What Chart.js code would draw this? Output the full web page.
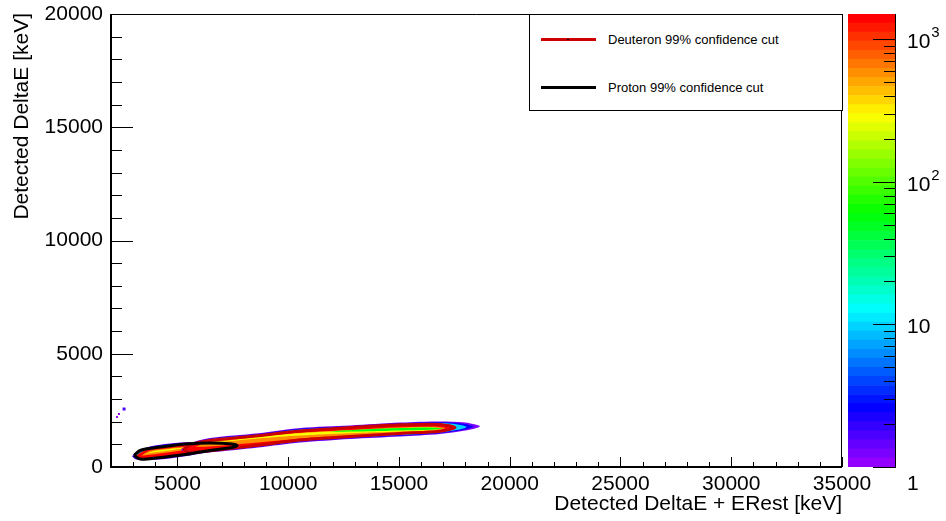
<!DOCTYPE html>
<html>
<head>
<meta charset="utf-8">
<title>DeltaE vs DeltaE + ERest</title>
<script src="https://cdn.jsdelivr.net/npm/chart.js@4.4.1/dist/chart.umd.min.js"></script>
<style>
  html, body { margin: 0; background: #fff; }
  #wrap { position: relative; width: 946px; height: 521px; overflow: hidden; }
  #histChart { position: absolute; left: 0; top: 0; }
  #paletteChart { position: absolute; left: 840px; top: 0; }
  #legend {
    position: absolute; left: 529px; top: 14px; width: 314px; height: 97px;
    box-sizing: border-box; border: 1px solid #000; background: #fff;
    font: 13px "Liberation Sans", Arial, sans-serif; color: #000;
  }
  #legend .swatch { position: absolute; left: 11px; width: 55px; height: 3px; }
  #legend .dot { position: absolute; left: 37px; width: 2px; height: 1px; background: #000; }
  #legend .label { position: absolute; left: 78px; line-height: 15px; white-space: nowrap; }
</style>
</head>
<body>
<div id="wrap">
  <canvas id="histChart" width="946" height="521"></canvas>
  <canvas id="paletteChart" width="106" height="521"></canvas>
  <div id="legend">
    <div class="swatch" style="top:22.5px;background:#cc0000"></div>
    <div class="dot" style="top:23.5px"></div>
    <div class="label" style="top:16.5px">Deuteron 99% confidence cut</div>
    <div class="swatch" style="top:70.5px;background:#000"></div>
    <div class="label" style="top:64.5px">Proton 99% confidence cut</div>
  </div>
</div>
<script>
const FONT = '"Liberation Sans", Arial, sans-serif';

// axes (keV)
const xRange = [2000, 35000];
const yRange = [0, 20000];
const xTicks = [5000, 10000, 15000, 20000, 25000, 30000, 35000];
const yTicks = [0, 5000, 10000, 15000, 20000];
const minorStep = 1000;
const yTitle = 'Detected DeltaE [keV]';

// colour axis: counts per bin, log scale
const zRange = [1, 1500];
const zTicks = [1, 10, 100, 1000];
const nColors = 50;

// contour bands: z = counts, x = DeltaE + ERest, hi / lo = DeltaE edges of the band
const protonPurple = { z: 1.2, x: [2950, 3130, 3760, 4660, 5570, 6470, 7280, 7550],
  hi: [460, 660, 910, 1040, 1100, 1100, 1040, 930], lo: [460, 330, 310, 380, 510, 660, 820, 930] };
const protonBlue = { z: 2.5, x: [3000, 3170, 3760, 4660, 5570, 6470, 7230, 7470],
  hi: [460, 640, 880, 1010, 1070, 1070, 1010, 930], lo: [460, 360, 340, 410, 540, 690, 850, 930] };
const protonCyan = { z: 10, x: [3050, 3210, 3760, 4660, 5570, 6470, 7180, 7400],
  hi: [460, 620, 850, 980, 1040, 1040, 990, 930], lo: [460, 390, 370, 440, 570, 720, 870, 930] };
const protonRed = { z: 1400, x: [3100, 3260, 3760, 4660, 5570, 6470, 7130, 7330],
  hi: [460, 600, 820, 950, 1010, 1010, 970, 920], lo: [460, 410, 400, 470, 600, 740, 880, 920] };
const protonOrange = { z: 600, x: [3350, 3760, 4660, 5570, 6470],
  hi: [500, 720, 830, 900, 880], lo: [500, 540, 650, 770, 880] };
const protonYellow = { z: 270, x: [3450, 3900, 4660, 5340],
  hi: [540, 700, 800, 850], lo: [540, 640, 730, 850] };

const deuteronPurple = { z: 1.2, x: [5150, 5500, 6400, 8650, 10550, 12800, 15050, 16850, 18000, 18650],
  hi: [750, 1020, 1270, 1490, 1720, 1830, 1960, 2010, 1960, 1790], lo: [750, 620, 640, 860, 1080, 1240, 1350, 1460, 1610, 1790] };
const deuteronBlue = { z: 2.5, x: [5200, 5530, 6400, 8650, 10550, 12800, 15050, 16850, 17850, 18350],
  hi: [760, 990, 1240, 1460, 1690, 1800, 1930, 1975, 1920, 1790], lo: [760, 650, 670, 890, 1110, 1270, 1380, 1490, 1630, 1790] };
const deuteronCyan = { z: 10, x: [5250, 5560, 6400, 8650, 10550, 12800, 15050, 16850, 17650, 18050],
  hi: [770, 960, 1210, 1430, 1660, 1770, 1900, 1940, 1880, 1770], lo: [770, 680, 700, 920, 1140, 1300, 1410, 1520, 1640, 1770] };
const deuteronRed = { z: 1400, x: [5300, 5600, 6400, 8650, 10550, 12800, 15050, 16850, 17400],
  hi: [780, 930, 1180, 1400, 1630, 1740, 1870, 1900, 1730], lo: [780, 710, 730, 950, 1170, 1330, 1440, 1540, 1730] };
const deuteronOrange = { z: 600, x: [5790, 6380, 8640, 10530, 12790, 15050, 16630, 17080],
  hi: [880, 1100, 1340, 1510, 1630, 1750, 1780, 1720], lo: [880, 900, 1080, 1260, 1390, 1490, 1570, 1720] };
const deuteronYellow = { z: 270, x: [6020, 8640, 10530, 12790, 15050, 16400, 16850],
  hi: [1020, 1330, 1490, 1610, 1725, 1755, 1700], lo: [1020, 1260, 1390, 1490, 1570, 1610, 1700] };
const deuteronGreen = { z: 60, x: [11900, 13100, 15050, 16400, 16950],
  hi: [1560, 1640, 1720, 1745, 1690], lo: [1560, 1570, 1615, 1645, 1690] };

// 99% confidence cuts
const deuteronCut = { x: [5250, 5570, 6380, 8640, 10530, 12790, 15050, 16850, 17530],
  hi: [760, 970, 1160, 1380, 1590, 1740, 1860, 1880, 1740], lo: [760, 660, 710, 960, 1190, 1350, 1480, 1580, 1740] };
const protonCut = { x: [3040, 3310, 4120, 5340, 6470, 7460, 7690],
  hi: [510, 730, 870, 1020, 1060, 1020, 950], lo: [510, 350, 410, 550, 730, 860, 950] };

// isolated low-count bins
const strayX = [2590, 2360, 2270];
const strayY = [2560, 2340, 2210];
const strayZ = [1.6, 1, 1];

function paletteColor(i) {
  const hue = 280 - (i + 1) * 280 / nColors;
  return `hsl(${hue}, 100%, 50%)`;
}

function colorForCount(z) {
  const f = Math.log(z / zRange[0]) / Math.log(zRange[1] / zRange[0]);
  return paletteColor(Math.min(nColors - 1, Math.max(0, Math.floor(f * nColors))));
}

// closed outline: along the upper edge, then back along the lower edge
function outline(band) {
  const top = band.x.map((x, i) => ({ x, y: band.hi[i] }));
  const bottom = band.x.map((x, i) => ({ x, y: band.lo[i] })).reverse();
  return top.concat(bottom.slice(1));
}

function bandSet(band) {
  const color = colorForCount(band.z);
  return { data: outline(band), fill: 'shape', backgroundColor: color, borderColor: 'transparent',
    borderWidth: 0, pointRadius: 0, tension: 0.3 };
}

function cutSet(band, color) {
  return { data: outline(band), fill: false, borderColor: color, borderWidth: 3,
    pointRadius: 0, tension: 0.3 };
}

const layers = [
  bandSet(protonPurple), bandSet(protonBlue), bandSet(protonCyan),
  bandSet(protonRed), bandSet(protonOrange), bandSet(protonYellow),
  bandSet(deuteronPurple), bandSet(deuteronBlue), bandSet(deuteronCyan),
  bandSet(deuteronRed), bandSet(deuteronOrange), bandSet(deuteronYellow), bandSet(deuteronGreen),
  cutSet(deuteronCut, '#cc0000'),
  cutSet(protonCut, '#000000'),
  {
    data: strayX.map((x, i) => ({ x, y: strayY[i] })),
    showLine: false, pointStyle: 'rect',
    pointRadius: strayZ.map(z => (z > 1 ? 2.1 : 1.4)),
    pointBackgroundColor: strayZ.map(colorForCount), pointBorderWidth: 0
  }
];
// first layer goes to the back
layers.forEach((ds, i) => { ds.order = layers.length - i; });

const axisFrame = {
  id: 'axisFrame',
  afterDatasetsDraw(chart) {
    const { ctx, chartArea: a, scales: { x, y } } = chart;
    ctx.save();
    ctx.strokeStyle = '#000';
    ctx.lineWidth = 1;
    ctx.beginPath();
    ctx.moveTo(a.left, a.top + 0.5);
    ctx.lineTo(a.right - 0.5, a.top + 0.5);
    ctx.lineTo(a.right - 0.5, a.bottom);
    for (let v = Math.ceil(xRange[0] / minorStep) * minorStep; v <= xRange[1]; v += minorStep) {
      const px = Math.round(x.getPixelForValue(v)) + 0.5;
      const len = xTicks.includes(v) ? 10 : 5;
      ctx.moveTo(px, a.bottom);
      ctx.lineTo(px, a.bottom - len);
    }
    for (let v = yRange[0]; v <= yRange[1]; v += minorStep) {
      const py = Math.round(y.getPixelForValue(v)) + 0.5;
      const len = yTicks.includes(v) ? 22 : 11;
      ctx.moveTo(a.left, py);
      ctx.lineTo(a.left + len, py);
    }
    ctx.stroke();
    ctx.lineWidth = 2;
    ctx.beginPath();
    ctx.moveTo(a.left, a.top);
    ctx.lineTo(a.left, a.bottom);
    ctx.lineTo(a.right, a.bottom);
    ctx.stroke();

    // y title, right-aligned to the top of the axis
    ctx.translate(22, a.top - 1);
    ctx.rotate(-Math.PI / 2);
    ctx.fillStyle = '#000';
    ctx.font = `21px ${FONT}`;
    ctx.textAlign = 'right';
    ctx.textBaseline = 'middle';
    ctx.fillText(yTitle, 0, 0);
    ctx.restore();
  }
};

// keep the plot frame where the layout padding puts it
function noLabelPadding(s) {
  s.paddingTop = 0;
  s.paddingBottom = 0;
  s.paddingLeft = 0;
  s.paddingRight = 0;
}

new Chart(document.getElementById('histChart'), {
  type: 'line',
  data: { datasets: layers },
  options: {
    responsive: false,
    animation: false,
    events: [],
    layout: { autoPadding: false, padding: { left: 0, top: 14, right: 104, bottom: 0 } },
    plugins: { legend: { display: false }, tooltip: { enabled: false } },
    scales: {
      x: {
        type: 'linear', min: xRange[0], max: xRange[1],
        afterBuildTicks: (s) => { s.ticks = xTicks.map((value) => ({ value })); },
        afterFit: (s) => { s.height = 54; noLabelPadding(s); },
        grid: { display: false, drawTicks: false },
        border: { display: false },
        ticks: { color: '#000', font: { family: FONT, size: 21 }, padding: 5,
          maxRotation: 0, autoSkip: false, callback: (v) => String(v) },
        title: { display: true, text: 'Detected DeltaE + ERest [keV]', align: 'end',
          color: '#000', font: { family: FONT, size: 21 }, padding: 4 }
      },
      y: {
        type: 'linear', min: yRange[0], max: yRange[1],
        afterBuildTicks: (s) => { s.ticks = yTicks.map((value) => ({ value })); },
        afterFit: (s) => { s.width = 111; noLabelPadding(s); },
        grid: { display: false, drawTicks: false },
        border: { display: false },
        ticks: { color: '#000', font: { family: FONT, size: 21 }, padding: 8,
          autoSkip: false, callback: (v) => String(v) }
      }
    }
  },
  plugins: [axisFrame]
});

// colour scale: one floating bar per palette level
const zEdges = Array.from({ length: nColors + 1 },
  (_, i) => zRange[0] * Math.pow(zRange[1] / zRange[0], i / nColors));
const paletteSets = zEdges.slice(0, -1).map((lo, i) => ({
  data: [[lo, zEdges[i + 1]]], backgroundColor: paletteColor(i), borderWidth: 0,
  barPercentage: 1, categoryPercentage: 1, grouped: false
}));

const paletteAxis = {
  id: 'paletteAxis',
  afterDraw(chart) {
    const { ctx, chartArea: a, scales: { y } } = chart;
    ctx.save();
    ctx.strokeStyle = '#000';
    ctx.lineWidth = 1;
    ctx.beginPath();
    for (let d = 1; d <= zRange[1]; d *= 10) {
      for (let m = 1; m < 10; m++) {
        const v = m * d;
        if (v < zRange[0] || v > zRange[1]) continue;
        const py = Math.round(y.getPixelForValue(v)) + 0.5;
        ctx.moveTo(a.right, py);
        ctx.lineTo(a.right - (m === 1 ? 22 : 11), py);
      }
    }
    ctx.stroke();
    ctx.fillStyle = '#000';
    ctx.textAlign = 'left';
    ctx.textBaseline = 'middle';
    zTicks.forEach((v) => {
      const exp = Math.round(Math.log10(v));
      // the lowest label sits below the end of the bar
      const py = v === zRange[0] ? a.bottom + 17 : y.getPixelForValue(v) + 3;
      const px = a.right + 12;
      const base = exp < 2 ? String(v) : '10';
      ctx.font = `21px ${FONT}`;
      ctx.fillText(base, px, py);
      if (exp >= 2) {
        const w = ctx.measureText(base).width;
        ctx.font = `15px ${FONT}`;
        ctx.fillText(String(exp), px + w + 1, py - 9);
      }
    });
    ctx.restore();
  }
};

new Chart(document.getElementById('paletteChart'), {
  type: 'bar',
  data: { labels: [''], datasets: paletteSets },
  options: {
    responsive: false,
    animation: false,
    events: [],
    layout: { autoPadding: false, padding: { left: 8, top: 14, right: 0, bottom: 54 } },
    plugins: { legend: { display: false }, tooltip: { enabled: false } },
    scales: {
      x: { display: false },
      y: {
        type: 'logarithmic', position: 'right', min: zRange[0], max: zRange[1],
        afterFit: (s) => { s.width = 51; noLabelPadding(s); },
        grid: { display: false, drawTicks: false },
        border: { display: true, color: '#000', width: 1 },
        ticks: { display: false }
      }
    }
  },
  plugins: [paletteAxis]
});
</script>
</body>
</html>
